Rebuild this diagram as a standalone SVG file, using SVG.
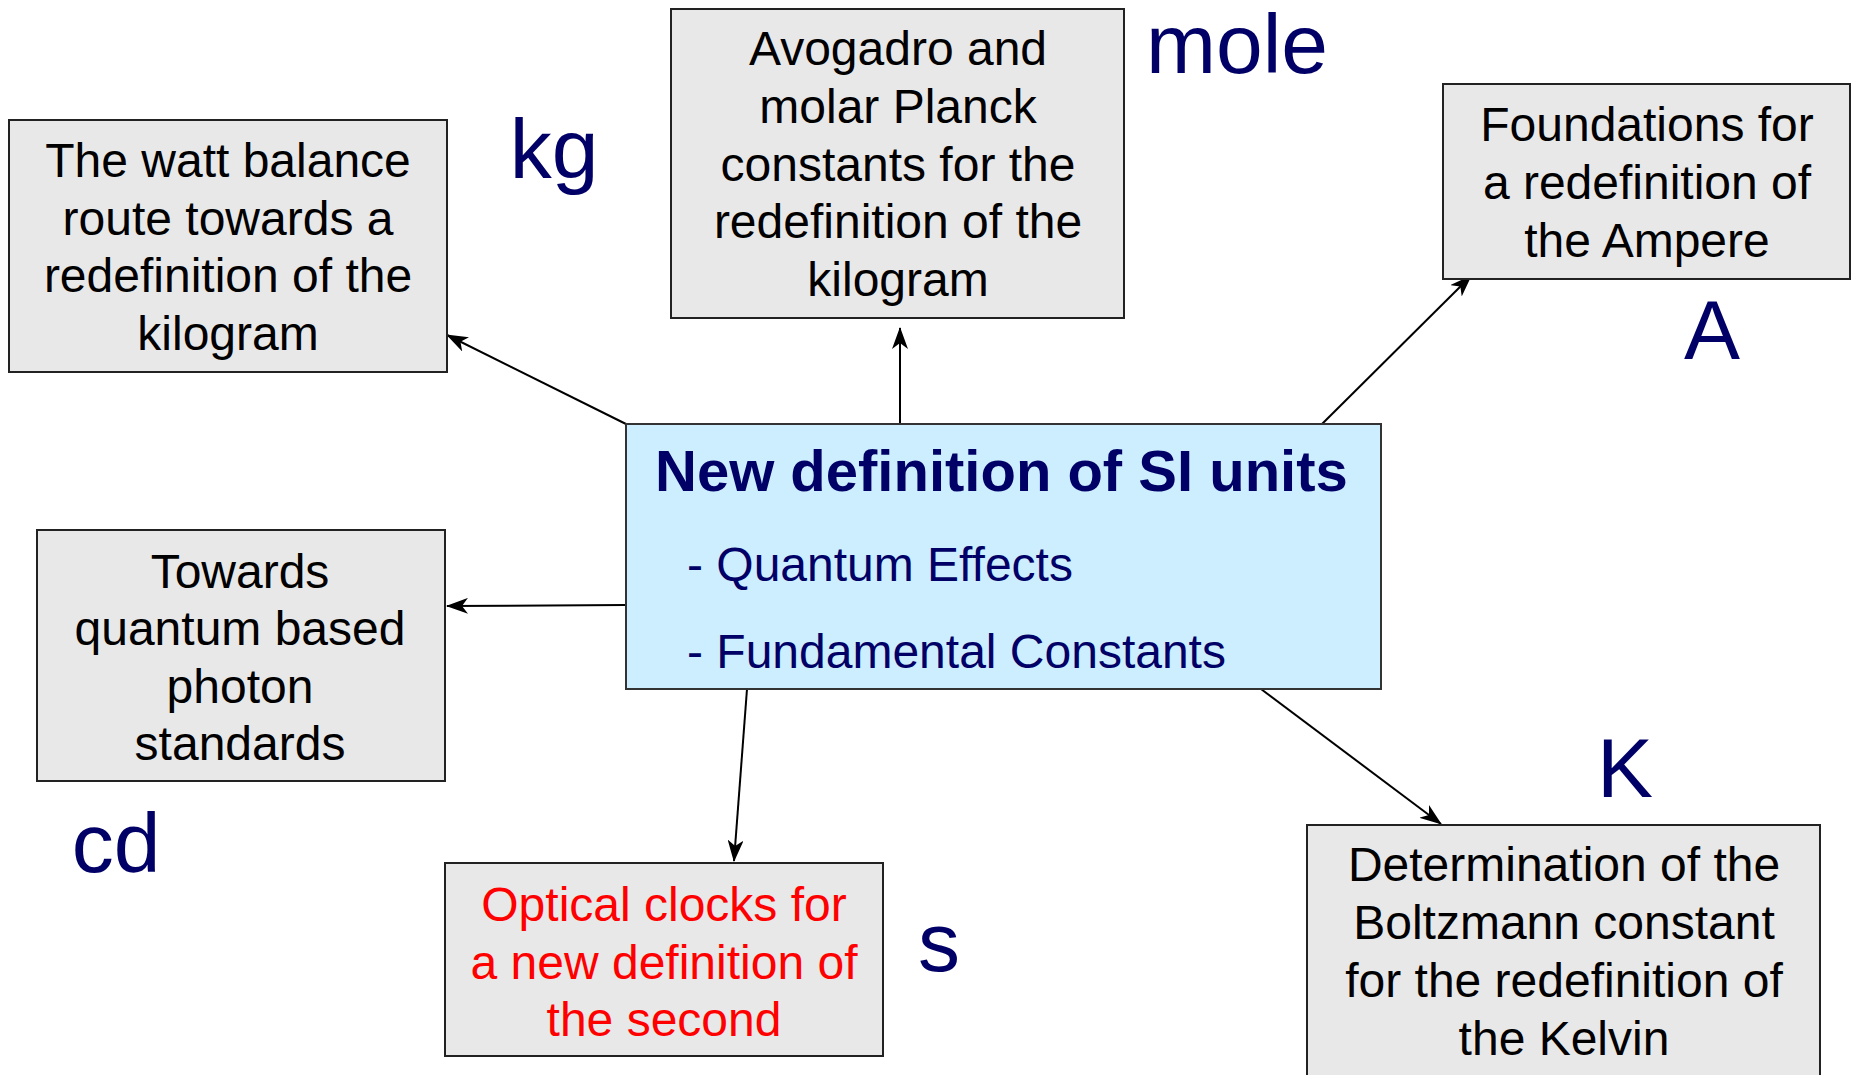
<svg xmlns="http://www.w3.org/2000/svg" width="1856" height="1075" viewBox="0 0 1856 1075">
<defs>
<style>
.box{fill:#e8e8e8;stroke:#222;stroke-width:2}
.main{fill:#cceeff;stroke:#333;stroke-width:2}
.t{font-family:"Liberation Sans",Arial,sans-serif;font-size:48px;fill:#000;text-anchor:middle}
.red{fill:#ff0000}
.unit{font-family:"Liberation Sans",Arial,sans-serif;font-size:84px;fill:#000066;text-anchor:middle}
.title{font-family:"Liberation Sans",Arial,sans-serif;font-size:58px;font-weight:bold;fill:#000066}
.sub{font-family:"Liberation Sans",Arial,sans-serif;font-size:48px;fill:#000066}
.c{stroke:#000;stroke-width:2;fill:none;marker-end:url(#ah)}
</style>
<marker id="ah" viewBox="0 0 22 16" refX="21" refY="8" markerWidth="22" markerHeight="16" markerUnits="userSpaceOnUse" orient="auto">
<path d="M0,0 L22,8 L0,16 L6,8 z" fill="#000"/>
</marker>
</defs>
<rect width="1856" height="1075" fill="#fff"/>
<g id="connectors">
<line class="c" x1="626" y1="424" x2="447" y2="335"/>
<line class="c" x1="900" y1="424" x2="900" y2="328"/>
<line class="c" x1="1322" y1="424" x2="1471" y2="276"/>
<line class="c" x1="626" y1="605" x2="447" y2="606"/>
<line class="c" x1="747" y1="689" x2="734" y2="861"/>
<line class="c" x1="1261" y1="689" x2="1441" y2="824"/>
</g>
<g id="center">
<rect class="main" x="626" y="424" width="755" height="265"/>
<text class="title" x="655" y="491">New definition of SI units</text>
<text class="sub" x="687" y="581">- Quantum Effects</text>
<text class="sub" x="687" y="668">- Fundamental Constants</text>
</g>
<g id="watt">
<rect class="box" x="9" y="120" width="438" height="252"/>
<text class="t" x="228" y="177">The watt balance</text>
<text class="t" x="228" y="235">route towards a</text>
<text class="t" x="228" y="292">redefinition of the</text>
<text class="t" x="228" y="350">kilogram</text>
</g>
<g id="avogadro">
<rect class="box" x="671" y="9" width="453" height="309"/>
<text class="t" x="898" y="65">Avogadro and</text>
<text class="t" x="898" y="123">molar Planck</text>
<text class="t" x="898" y="181">constants for the</text>
<text class="t" x="898" y="238">redefinition of the</text>
<text class="t" x="898" y="296">kilogram</text>
</g>
<g id="ampere">
<rect class="box" x="1443" y="84" width="407" height="195"/>
<text class="t" x="1647" y="141">Foundations for</text>
<text class="t" x="1647" y="199">a redefinition of</text>
<text class="t" x="1647" y="257">the Ampere</text>
</g>
<g id="photon">
<rect class="box" x="37" y="530" width="408" height="251"/>
<text class="t" x="240" y="588">Towards</text>
<text class="t" x="240" y="645">quantum based</text>
<text class="t" x="240" y="703">photon</text>
<text class="t" x="240" y="760">standards</text>
</g>
<g id="optical">
<rect class="box" x="445" y="863" width="438" height="193"/>
<text class="t red" x="664" y="921">Optical clocks for</text>
<text class="t red" x="664" y="979">a new definition of</text>
<text class="t red" x="664" y="1036">the second</text>
</g>
<g id="kelvin">
<rect class="box" x="1307" y="825" width="513" height="260"/>
<text class="t" x="1564" y="881">Determination of the</text>
<text class="t" x="1564" y="939">Boltzmann constant</text>
<text class="t" x="1564" y="997">for the redefinition of</text>
<text class="t" x="1564" y="1055">the Kelvin</text>
</g>
<g id="units">
<text class="unit" x="554" y="178">kg</text>
<text class="unit" x="1237" y="73">mole</text>
<text class="unit" x="1712" y="359">A</text>
<text class="unit" x="1625" y="797">K</text>
<text class="unit" x="116" y="872">cd</text>
<text class="unit" x="939" y="971">s</text>
</g>
</svg>
